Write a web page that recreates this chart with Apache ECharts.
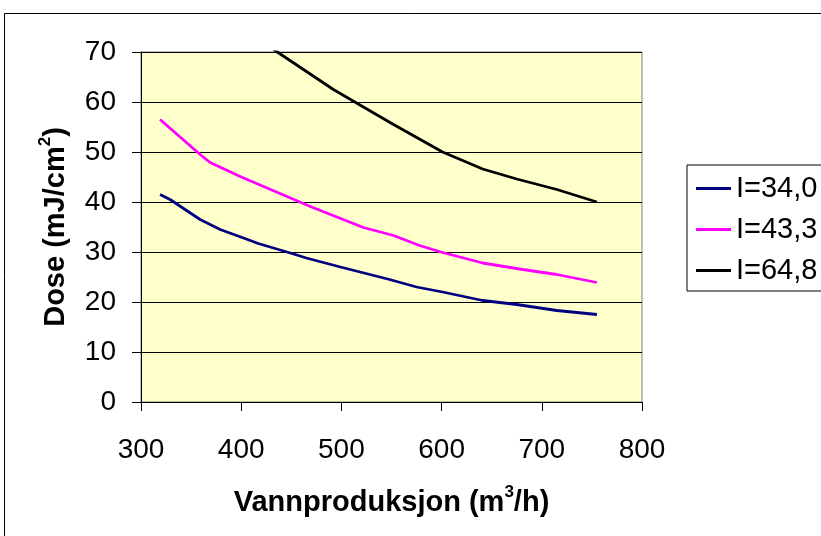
<!DOCTYPE html>
<html>
<head>
<meta charset="utf-8">
<script src="https://cdn.jsdelivr.net/npm/echarts@6/dist/echarts.min.js"></script>
<style>
html,body{margin:0;padding:0;background:#fff;}
#chart{width:821px;height:536px;}
</style>
</head>
<body>
<div id="chart"></div>
<script>
var seriesNames = ['I=34,0', 'I=43,3', 'I=64,8'];
var seriesColors = ['#000080', '#ff00ff', '#000000'];

var blueData = [[319,41.5],[329,40.5],[359,36.5],[379,34.5],[405,32.6],[417,31.7],[449,29.8],[465,28.8],[499,27.0],[548,24.5],[575,23.0],[601,22.0],[641,20.3],[675,19.5],[715,18.3],[755,17.5]];
var magentaData = [[319,56.5],[359,49.5],[369,47.9],[399,45.1],[469,39.1],[522,34.9],[552,33.3],[578,31.3],[601,29.9],[641,27.8],[681,26.5],[715,25.5],[755,23.9]];
var blackData = [[319,90],[359,82],[379,78.5],[405,74.5],[436,70.0],[492,62.5],[552,55.5],[601,50.0],[641,46.6],[675,44.6],[715,42.5],[755,40.0]];

var xTicks = {min: 300, max: 800, interval: 100};
var yTicks = {min: 0, max: 70, interval: 10};

var FONT = 'Liberation Sans, Arial, sans-serif';
var chart = echarts.init(document.getElementById('chart'), null, {renderer: 'canvas'});

var allData = [blueData, magentaData, blackData];
var series = seriesNames.map(function (n, i) {
  return {
    name: n,
    type: 'line',
    data: allData[i],
    symbol: 'none',
    smooth: false,
    clip: true,
    lineStyle: {color: seriesColors[i], width: 2.8},
    itemStyle: {color: seriesColors[i]}
  };
});

var titleRich = {
  a: {fontFamily: FONT, fontSize: 29, fontWeight: 'bold', color: '#000', lineHeight: 38},
  s: {fontFamily: FONT, fontSize: 17, fontWeight: 'bold', color: '#000', lineHeight: 17, verticalAlign: 'top'}
};

chart.setOption({
  animation: false,
  backgroundColor: '#ffffff',
  graphic: [{
    type: 'rect',
    shape: {x: 4.5, y: 13.5, width: 840, height: 560},
    style: {fill: 'none', stroke: '#000', lineWidth: 1},
    silent: true
  }],
  grid: {
    left: 141, right: 179, top: 52, bottom: 134,
    show: true, backgroundColor: '#ffffcc', borderColor: '#808080', borderWidth: 1
  },
  legend: {
    orient: 'vertical',
    left: 687, top: 165,
    padding: [9, 30, 6, 9],
    icon: 'rect',
    itemWidth: 35, itemHeight: 3, itemGap: 12,
    borderColor: '#000', borderWidth: 1,
    backgroundColor: '#ffffff',
    textStyle: {fontFamily: FONT, fontSize: 29, color: '#000'},
    data: seriesNames.map(function (n) { return {name: n}; })
  },
  xAxis: {
    type: 'value',
    min: xTicks.min, max: xTicks.max, interval: xTicks.interval,
    name: '{a|Vannproduksjon (m}{s|3}{a|/h)}',
    nameLocation: 'middle', nameGap: 82,
    nameTextStyle: {rich: titleRich},
    axisLine: {show: true, onZero: false, lineStyle: {color: '#000', width: 1}},
    axisTick: {show: true, inside: false, length: 9, lineStyle: {color: '#000'}},
    axisLabel: {fontFamily: FONT, fontSize: 28, color: '#000', margin: 34},
    splitLine: {show: false}
  },
  yAxis: {
    type: 'value',
    min: yTicks.min, max: yTicks.max, interval: yTicks.interval,
    name: '{a|Dose (mJ/cm}{s|2}{a|)}',
    nameLocation: 'middle', nameGap: 66,
    nameTextStyle: {rich: titleRich},
    axisLine: {show: true, onZero: false, lineStyle: {color: '#000', width: 1}},
    axisTick: {show: true, inside: false, length: 9, lineStyle: {color: '#000'}},
    axisLabel: {fontFamily: FONT, fontSize: 28, color: '#000', margin: 25},
    splitLine: {show: true, lineStyle: {color: '#000', width: 1}}
  },
  series: series
});
</script>
</body>
</html>
